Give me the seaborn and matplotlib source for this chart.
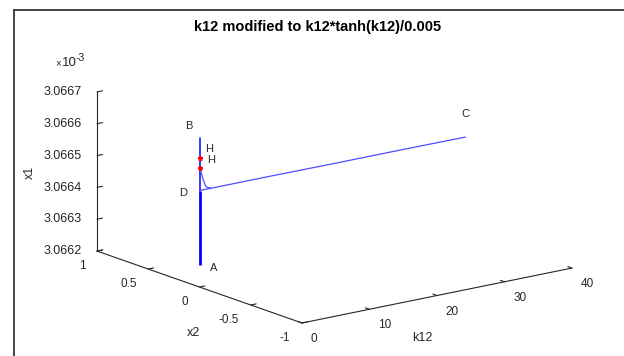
import numpy as np
import matplotlib
matplotlib.use("Agg")
import matplotlib.pyplot as plt
import seaborn as sns
from matplotlib.lines import Line2D
from mpl_toolkits.mplot3d import proj3d

# ---------------- data ----------------
title = "k12 modified to k12*tanh(k12)/0.005"
k12_ticks = [0, 10, 20, 30, 40]
x2_ticks = [-1, -0.5, 0, 0.5, 1]
x2_ticklabels = ["-1", "-0.5", "0", "0.5", "1"]
x1_ticks = [3.0662e-3, 3.0663e-3, 3.0664e-3, 3.0665e-3, 3.0666e-3, 3.0667e-3]
x1_ticklabels = ["3.0662", "3.0663", "3.0664", "3.0665", "3.0666", "3.0667"]

# branch A -> D (dense, thick) at k12 ~ 0, x2 ~ 0
ad_k12 = [0.0, 0.0, 0.0, 0.0]
ad_x2 = [0.0, 0.0, 0.0, 0.0]
ad_x1 = [3.06627e-3, 3.06635e-3, 3.06643e-3, 3.066503e-3]

# branch D -> B (thin)
db_k12 = [0.0, 0.0, 0.0, 0.0]
db_x2 = [0.0, 0.0, 0.0, 0.0]
db_x1 = [3.066503e-3, 3.066574e-3, 3.066606e-3, 3.066669e-3]

# branch D -> C
dc_k12 = [0.0, 10.0, 20.0, 30.0, 39.4]
dc_x2 = [0.0, 0.0, 0.0, 0.0, 0.0]
dc_x1 = [3.066503e-3, 3.066503e-3, 3.066502e-3, 3.066502e-3, 3.066501e-3]

# curved branch from H to the D-C branch
cv_k12 = [0.0, 0.1, 0.2, 0.3, 0.4, 0.5, 0.65, 0.8, 1.0, 1.2, 1.6]
cv_x2 = [0.0] * 11
cv_x1 = [3.066575e-3, 3.066568e-3, 3.066561e-3, 3.066554e-3, 3.066546e-3,
         3.066538e-3, 3.066528e-3, 3.066519e-3, 3.066511e-3, 3.066507e-3, 3.066505e-3]

# Hopf points
h_k12 = [0.0, 0.0]
h_x2 = [0.0, 0.0]
h_x1 = [3.066606e-3, 3.066574e-3]

# ---------------- style ----------------
sns.set_theme(style="white")
plt.rcParams['font.family'] = ['Liberation Sans', 'DejaVu Sans']
GRAY = "#262626"

W, H = 624, 356
fig = plt.figure(figsize=(W / 100, H / 100), dpi=100)
fig.patch.set_facecolor("white")
ax = fig.add_axes([0.1, 0.05, 0.8, 0.85], projection="3d")
ax.set_proj_type("ortho")
ax.view_init(elev=15.5, azim=-127.3)
ax.set_box_aspect((339, 338, 165))
ax.patch.set_alpha(0)

blue = (0, 0, 1)
light = (0.3, 0.3, 1.0)
ax.plot(ad_k12, ad_x2, ad_x1, color=blue, lw=2.0, solid_capstyle="butt")
ax.plot(db_k12, db_x2, db_x1, color=blue, lw=1.1)
ax.plot(dc_k12, dc_x2, dc_x1, color=light, lw=0.9)
ax.plot(cv_k12, cv_x2, cv_x1, color=light, lw=0.9)
ax.plot(h_k12, h_x2, h_x1, ls="none", marker="*", ms=3.5, color="red")

ax.set_xlim(0, 40)
ax.set_ylim(-1, 1)
ax.set_zlim(x1_ticks[0], x1_ticks[-1])
ax.set_xticks(k12_ticks)
ax.set_yticks(x2_ticks)
ax.set_yticklabels(x2_ticklabels)
ax.set_zticks(x1_ticks)
ax.set_zticklabels(x1_ticklabels)
ax.grid(False)
for a in (ax.xaxis, ax.yaxis, ax.zaxis):
    a.set_pane_color((1, 1, 1, 0))
    a.pane.set_edgecolor((1, 1, 1, 0))
    a.line.set_color(GRAY)
    a.line.set_linewidth(0.8)
    a._axinfo["tick"]["inward_factor"] = 0.0
    a._axinfo["tick"]["outward_factor"] = 0.25
    a._axinfo["tick"]["linewidth"] = {True: 0.8, False: 0.5}
ax.tick_params(labelsize=8.5, colors=GRAY)
ax.tick_params(axis="x", pad=0.0)
ax.tick_params(axis="y", pad=0.0)
ax.tick_params(axis="z", labelsize=9, pad=5.5)
for t in ax.xaxis.get_ticklabels():
    t.set_ha("left")
for t in ax.yaxis.get_ticklabels():
    t.set_ha("right")
for t in ax.zaxis.get_ticklabels():
    t.set_va("center_baseline")

# --------- calibrate axes placement to match the reference box ---------
def to_disp(pts):
    M = ax.get_proj()
    p = np.array(pts, dtype=float)
    x2d, y2d, _ = proj3d.proj_transform(p[:, 0], p[:, 1], p[:, 2], M)
    return ax.transData.transform(np.column_stack([x2d, y2d]))

zmin, zmax = x1_ticks[0], x1_ticks[-1]
corners = [(0, -1, zmin), (40, -1, zmin), (0, 1, zmin), (0, 1, zmax)]
targets_px = [(302, 323), (572, 268), (97, 251), (97, 92)]
targets = np.array([(x, H - y) for x, y in targets_px], dtype=float)

for _ in range(3):
    fig.canvas.draw()
    pos = ax.get_position(original=False)
    S0 = pos.width * W
    C0 = np.array([(pos.x0 + pos.width / 2) * W, (pos.y0 + pos.height / 2) * H])
    P = to_disp(corners)
    n = (P - C0) / S0
    A = []
    b = []
    for i in range(len(corners)):
        A.append([n[i, 0], 1, 0]); b.append(targets[i, 0])
        A.append([n[i, 1], 0, 1]); b.append(targets[i, 1])
    S, Cx, Cy = np.linalg.lstsq(np.array(A), np.array(b), rcond=None)[0]
    ax.set_position([(Cx - S / 2) / W, (Cy - S / 2) / H, S / W, S / H])
fig.canvas.draw()

# --------- point labels ---------
labels = [
    ("A", (ad_k12[0], ad_x2[0], ad_x1[0]), (14, -3)),
    ("B", (db_k12[-1], db_x2[-1], db_x1[-1]), (-11, 12)),
    ("C", (dc_k12[-1], dc_x2[-1], dc_x1[-1]), (0, 23)),
    ("D", (ad_k12[-1], ad_x2[-1], ad_x1[-1]), (-16, -2)),
    ("H", (h_k12[0], h_x2[0], h_x1[0]), (10, 9)),
    ("H", (h_k12[1], h_x2[1], h_x1[1]), (12, 8)),
]
for s, p, (dx, dy) in labels:
    d = to_disp([p])[0]
    fig.text((d[0] + dx) / W, (d[1] + dy) / H, s, ha="center", va="center",
             fontsize=8, color=GRAY)

# axis labels, multiplier, title
fig.text(30 / W, 1 - 172 / H, "x1", rotation=90, ha="center", va="center",
         fontsize=9, color=GRAY)
fig.text(193 / W, 1 - 333 / H, "x2", ha="center", va="center", fontsize=9, color=GRAY)
fig.text(422 / W, 1 - 338 / H, "k12", ha="center", va="center", fontsize=9, color=GRAY)
fig.text(55 / W, 1 - 63 / H, "×", ha="left", va="center", fontsize=7, color=GRAY)
fig.text(62 / W, 1 - 63 / H, "10", ha="left", va="center", fontsize=9.5, color=GRAY)
fig.text(76 / W, 1 - 58 / H, "-3", ha="left", va="center", fontsize=7.5, color=GRAY)
fig.text(318 / W, 1 - 27 / H, title, ha="center", va="center", fontsize=10.5,
         fontweight="bold", color="black")

# figure frame (top and left edges visible)
fig.add_artist(Line2D([14 / W, 1], [1 - 10 / H, 1 - 10 / H], color=GRAY, lw=1.2,
                      transform=fig.transFigure))
fig.add_artist(Line2D([14 / W, 14 / W], [0, 1 - 10 / H], color=GRAY, lw=1.2,
                      transform=fig.transFigure))

fig.savefig("out.png", dpi=100, facecolor="white")
